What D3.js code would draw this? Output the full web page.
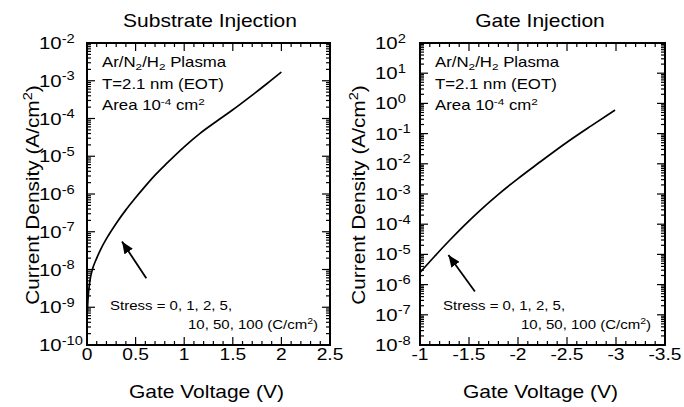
<!DOCTYPE html>
<html lang="en">
<head>
<meta charset="utf-8">
<title>Substrate / Gate Injection J-V</title>
<style>
    body { margin: 0; background: #fff; }
    svg { display: block; }
    text { font-family: "Liberation Sans", Arial, Helvetica, sans-serif; fill: #000; }
    .frame { fill: none; stroke: #000; stroke-width: 2px; }
    .tick { stroke: #000; stroke-width: 1.2px; }
    .curve { fill: none; stroke: #000; stroke-width: 1.7px; }
    .arrow { stroke: #000; stroke-width: 1.8px; }
</style>
</head>
<body>
<script src="https://cdn.jsdelivr.net/npm/d3@7"></script>
<script>
    // data
    let subVoltage = [0, 0.01, 0.03, 0.05, 0.1, 0.15, 0.22, 0.3, 0.4, 0.48, 0.6, 0.7, 0.82, 1.0, 1.16, 1.33, 1.5, 1.68, 1.85, 2.0];
    let subCurrent = [5.01e-10, 1.585e-9, 5.01e-9, 8.91e-9, 2.00e-8, 3.80e-8, 7.94e-8, 1.66e-7, 3.80e-7, 6.92e-7,
                      1.62e-6, 3.16e-6, 6.46e-6, 1.78e-5, 3.98e-5, 8.32e-5, 1.70e-4, 3.80e-4, 8.32e-4, 1.70e-3];

    let gateVoltage = [-1.0, -1.15, -1.3, -1.45, -1.6, -1.8, -2.0, -2.2, -2.5, -2.75, -2.99];
    let gateCurrent = [2.51e-6, 8.71e-6, 2.88e-5, 9.02e-5, 2.63e-4, 9.77e-4, 3.24e-3, 1.00e-2, 5.18e-2, 0.184, 0.603];

    let subXTicks = [0, 0.5, 1, 1.5, 2, 2.5];
    let subXLabels = ["0", "0.5", "1", "1.5", "2", "2.5"];
    let gateXTicks = [-1, -1.5, -2, -2.5, -3, -3.5];
    let gateXLabels = ["-1", "-1.5", "-2", "-2.5", "-3", "-3.5"];
    let subDecades = d3.range(-10, -1);   // 10^-10 .. 10^-2
    let gateDecades = d3.range(-8, 3);    // 10^-8 .. 10^2

    // arrow [tail, head] in data units
    let subArrow = [[0.61, 5.9e-9], [0.36, 5.5e-8]];
    let gateArrow = [[-1.56, 5.9e-7], [-1.29, 9.5e-6]];

    let width = 684, height = 407;
    let SX = 1.2; // the scanned lettering is a bit wide

    let svg = d3.select("body").append("svg")
        .attr("width", width)
        .attr("height", height);

    svg.append("defs").append("marker")
        .attr("id", "head")
        .attr("markerUnits", "userSpaceOnUse")
        .attr("viewBox", "0 0 12 10")
        .attr("refX", 12).attr("refY", 5)
        .attr("markerWidth", 12).attr("markerHeight", 10)
        .attr("orient", "auto")
        .append("path").attr("d", "M0,0 L12,5 L0,10 Z").attr("fill", "#000");

    // text with sub/superscript parts, stretched horizontally
    function addText(parent, x, y, parts, size, anchor, transform) {
        let t = parent.append("g")
            .attr("transform", transform || ("translate(" + x + "," + y + ") scale(" + SX + ",1)"))
            .append("text")
            .attr("font-size", size)
            .attr("text-anchor", anchor || "start");
        let cur = 0;
        parts.forEach(function(p) {
            let str = typeof p === "string" ? p : p[0];
            let shift = typeof p === "string" ? 0 : p[1];
            let sc = typeof p === "string" ? 1 : p[2];
            t.append("tspan")
                .attr("dy", shift - cur)
                .attr("font-size", size * sc)
                .text(str);
            cur = shift;
        });
        return t;
    }

    function drawPanel(opt) {
        let g = svg.append("g");
        let x = d3.scaleLinear().domain(opt.xDomain).range([opt.left, opt.right]);
        let y = d3.scaleLog().domain(opt.yDomain).range([opt.bottom, opt.top]);

        // minor / major x ticks, top and bottom, inward
        let minorX = d3.range(0, 26).map(function(i) {
            return opt.xDomain[0] + (opt.xDomain[1] - opt.xDomain[0]) * i / 25;
        });
        minorX.forEach(function(v, i) {
            let len = (i % 5 === 0) ? 8 : 4;
            g.append("line").attr("class", "tick")
                .attr("x1", x(v)).attr("x2", x(v))
                .attr("y1", opt.bottom).attr("y2", opt.bottom - len);
            g.append("line").attr("class", "tick")
                .attr("x1", x(v)).attr("x2", x(v))
                .attr("y1", opt.top).attr("y2", opt.top + len);
        });

        // log y ticks, left and right, inward
        opt.decades.forEach(function(k, i) {
            let mults = i === opt.decades.length - 1 ? [1] : d3.range(1, 10);
            mults.forEach(function(m) {
                let v = m * Math.pow(10, k);
                let len = m === 1 ? 8 : 4;
                g.append("line").attr("class", "tick")
                    .attr("x1", opt.left).attr("x2", opt.left + len)
                    .attr("y1", y(v)).attr("y2", y(v));
                g.append("line").attr("class", "tick")
                    .attr("x1", opt.right).attr("x2", opt.right - len)
                    .attr("y1", y(v)).attr("y2", y(v));
            });
        });

        g.append("rect").attr("class", "frame")
            .attr("x", opt.left).attr("y", opt.top)
            .attr("width", opt.right - opt.left)
            .attr("height", opt.bottom - opt.top);

        // tick labels
        opt.xTicks.forEach(function(v, i) {
            addText(g, x(v), opt.bottom + 14.5, [opt.xLabels[i]], 16, "middle");
        });
        opt.decades.forEach(function(k) {
            addText(g, opt.yLabelX, y(Math.pow(10, k)) + 6, ["10", [String(k).replace("\u2212", "-"), -6.5, 0.72]], 17, "start");
        });

        // curve
        let line = d3.line()
            .x(function(d) { return x(d[0]); })
            .y(function(d) { return y(d[1]); })
            .curve(d3.curveMonotoneX);
        g.append("path").attr("class", "curve")
            .attr("d", line(d3.zip(opt.vData, opt.jData)));

        // arrow
        g.append("line").attr("class", "arrow")
            .attr("x1", x(opt.arrow[0][0])).attr("y1", y(opt.arrow[0][1]))
            .attr("x2", x(opt.arrow[1][0])).attr("y2", y(opt.arrow[1][1]))
            .attr("marker-end", "url(#head)");

        // titles and labels
        let mid = (opt.left + opt.right) / 2;
        addText(g, opt.titleX, 27, [opt.title], 17.5, "middle");
        addText(g, mid - 2, 398, ["Gate Voltage (V)"], 17.5, "middle");
        addText(g, 0, 0, ["Current Density (A/cm", ["2", -6, 0.7], [")", 0, 1]], 16, "middle",
            "translate(" + opt.yTitleX + ",195) rotate(-90) scale(1.3,1.2)");

        let tx = opt.left + 15;
        addText(g, tx, 67, ["Ar/N", ["2", 3, 0.7], ["/H", 0, 1], ["2", 3, 0.7], [" Plasma", 0, 1]], 14, "start");
        addText(g, tx, 89, ["T=2.1 nm (EOT)"], 14, "start");
        addText(g, tx, 110, ["Area 10", ["-4", -5, 0.7], [" cm", 0, 1], ["2", -5, 0.7]], 14, "start");

        addText(g, opt.left + 23, 310, ["Stress = 0, 1, 2, 5,"], 12.5, "start");
        addText(g, opt.left + 101, 329, ["10, 50, 100 (C/cm", ["2", -5, 0.7], [")", 0, 1]], 12.5, "start");
    }

    drawPanel({
        left: 87, right: 330, top: 43, bottom: 345,
        xDomain: [0, 2.5], yDomain: [1e-10, 1e-2],
        xTicks: subXTicks, xLabels: subXLabels, decades: subDecades,
        vData: subVoltage, jData: subCurrent, arrow: subArrow,
        title: "Substrate Injection", titleX: 210,
        yLabelX: 39, yTitleX: 39
    });

    drawPanel({
        left: 420, right: 665, top: 43, bottom: 345,
        xDomain: [-1, -3.5], yDomain: [1e-8, 1e2],
        xTicks: gateXTicks, xLabels: gateXLabels, decades: gateDecades,
        vData: gateVoltage, jData: gateCurrent, arrow: gateArrow,
        title: "Gate Injection", titleX: 540,
        yLabelX: 375, yTitleX: 365
    });
</script>
</body>
</html>
